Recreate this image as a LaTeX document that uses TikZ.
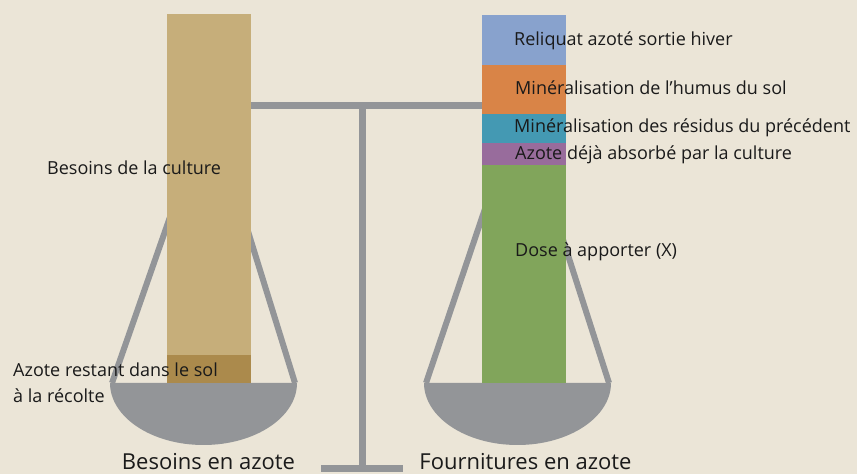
\documentclass[tikz,border=0pt]{standalone}
\usepackage{fontspec}
\setmainfont{Open Sans}
\usepackage{xcolor}
\usepackage{tikz}

\definecolor{fond}{HTML}{EBE5D7}
\definecolor{grisbalance}{HTML}{939598}
\definecolor{besoin}{HTML}{C6AE7A}
\definecolor{restant}{HTML}{AB8A4C}
\definecolor{reliquat}{HTML}{88A2CD}
\definecolor{humus}{HTML}{D98447}
\definecolor{residus}{HTML}{4499B3}
\definecolor{absorbe}{HTML}{986C9C}
\definecolor{dose}{HTML}{81A55B}
\definecolor{encre}{HTML}{1A1A1A}

\begin{document}
\begin{tikzpicture}[x=1pt,y=1pt,
    lbl/.style={anchor=west, inner sep=0pt, text=encre, font=\fontsize{18}{20}\selectfont},
    titre/.style={anchor=base, inner sep=0pt, text=encre, font=\fontsize{22}{24}\selectfont},
    fil/.style={grisbalance, line width=6pt},
    barre/.style={grisbalance, line width=7pt}]
    \fill[fond] (0,0) rectangle (857,474);
    \useasboundingbox (0,0) rectangle (857,474);
    % fleau, pied et socle
    \coordinate (pivotG) at (209,368.5);
    \coordinate (pivotD) at (520,368.5);
    \coordinate (axe) at (362.5,368.5);
    \coordinate (pied) at (362.5,5.5);
    \draw[barre] (pivotG) -- (pivotD);
    \draw[barre] (axe) -- (pied);
    \draw[barre] (321,5.5) -- (403,5.5);
    % plateau gauche
    \coordinate (rimGa) at (112,91);
    \coordinate (rimGb) at (295,91);
    \draw[fil] (rimGa) -- (pivotG) -- (rimGb);
    \fill[grisbalance] (110,91) arc[start angle=180, end angle=360, x radius=93.5pt, y radius=62pt] -- cycle;
    % plateau droit
    \coordinate (rimDa) at (426,91);
    \coordinate (rimDb) at (609,91);
    \draw[fil] (rimDa) -- (pivotD) -- (rimDb);
    \fill[grisbalance] (424,91) arc[start angle=180, end angle=360, x radius=93.5pt, y radius=62pt] -- cycle;
    % colonne des besoins
    \fill[besoin] (167,119) rectangle (251,460);
    \fill[restant] (167,91) rectangle (251,119);
    % colonne des fournitures
    \fill[dose] (482,91) rectangle (566,309);
    \fill[absorbe] (482,309) rectangle (566,331);
    \fill[residus] (482,331) rectangle (566,360);
    \fill[humus] (482,360) rectangle (566,409);
    \fill[reliquat] (482,409) rectangle (566,459);
    % textes
    \node[lbl] (culture) at (47,306) {Besoins de la culture};
    \node[lbl] (restant) at (13,104) {Azote restant dans le sol};
    \node[lbl] (recolte) at (13,78) {à la récolte};
    \node[lbl] (reliquat) at (514,433) {Reliquat azoté sortie hiver};
    \node[lbl] (humus) at (515,386) {Minéralisation de l’humus du sol};
    \node[lbl] (residus) at (514,346) {Minéralisation des résidus du précédent};
    \node[lbl] (absorbe) at (515,319) {Azote déjà absorbé par la culture};
    \node[lbl] (dose) at (515,222) {Dose à apporter (X)};
    \node[titre] (besoins) at (208.5,5) {Besoins en azote};
    \node[titre] (fournitures) at (525.5,5) {Fournitures en azote};
\end{tikzpicture}
\end{document}
